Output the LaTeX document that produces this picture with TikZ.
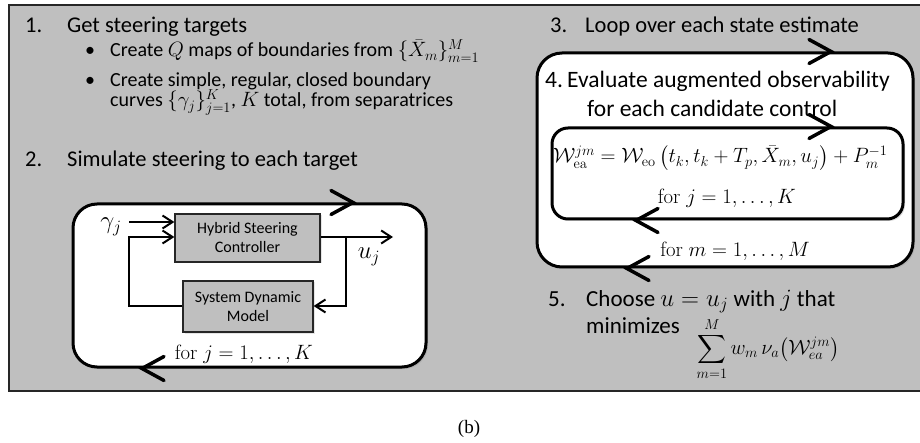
\documentclass[tikz,border=0pt]{standalone}
\usepackage[no-math]{fontspec}
\setmainfont{Carlito}
\newfontfamily\capfont{Liberation Serif}
\usepackage{amsmath,amssymb}
\usetikzlibrary{arrows.meta,shadows}

\tikzset{
  panel/.style={draw=black!85, fill=gray!50, line width=2pt},
  loopbox/.style={draw=black, fill=white, line width=3pt, inner sep=0pt,
    drop shadow={opacity=0.25, shadow xshift=2pt, shadow yshift=-2pt}},
  blk/.style={draw=black!85, fill=gray!50, line width=1.3pt, align=center,
    inner sep=0pt, font=\fontsize{16}{19}\selectfont,
    drop shadow={opacity=0.2, shadow xshift=1.5pt, shadow yshift=-1.5pt}},
  sig/.style={line width=2pt, -{Straight Barb[length=10pt,width=13pt,line width=2pt]}},
  loopline/.style={line width=3.5pt, line cap=round, line join=miter},
  head/.style={anchor=base west, inner sep=0pt, font=\fontsize{22.5}{26}\selectfont},
  headb/.style={anchor=base west, inner sep=0pt, font=\fontsize{23.5}{27}\selectfont},
  sub/.style={anchor=base west, inner sep=0pt, font=\fontsize{20}{24}\selectfont},
  mlbl/.style={inner sep=0pt, font=\fontsize{20}{24}\selectfont},
  biglbl/.style={inner sep=0pt, font=\fontsize{26}{30}\selectfont},
  chevright/.pic={\draw[loopline] (-22,-12) -- (0,0) -- (-22,12);},
  chevleft/.pic={\draw[loopline] (22,-12) -- (0,0) -- (22,12);}
}

\begin{document}
\begin{tikzpicture}[x=1pt, y=-1pt]
\useasboundingbox (0,0) rectangle (920,443);

% grey background panel
\draw[panel] (9,5) rectangle (926,391);

% ---- left column: steps 1 and 2
\node[head] (n1) at (25,33) {1.};
\node[head] (t1) at (67,33) {Get steering targets};
\node[sub] (d1) at (85,57) {\textbullet};
\node[sub] (c1) at (110,57) {Create $Q$ maps of boundaries from $\{\bar{X}_m\}_{m=1}^{M}$};
\node[sub] (d2) at (85,87) {\textbullet};
\node[sub] (c2) at (110,87) {Create simple, regular, closed boundary};
\node[sub] (c3) at (110,107) {curves $\{\gamma_j\}_{j=1}^{K}$, $K$ total, from separatrices};
\node[head] (n2) at (25,167) {2.};
\node[head] (t2) at (67,167) {Simulate steering to each target};

% loop over the targets
\node[loopbox, rounded corners=24pt, minimum width=353pt, minimum height=163pt]
  (loopK) at (249.5,285.5) {};
\pic at (loopK.north -| 353,0) {chevright};
\pic at (loopK.south -| 142,0) {chevleft};

% steering block diagram
\node[blk, minimum width=145pt, minimum height=48pt] (hsc) at (247.5,238) {Hybrid Steering\\Controller};
\node[blk, minimum width=130pt, minimum height=51pt] (sdm) at (248,306.5) {System Dynamic\\Model};
\node[biglbl] (gam) at (111,227) {$\gamma_j$};
\node[biglbl] (uj) at (369,257) {$u_j$};
\coordinate (gin) at (129,222);
\coordinate (fb) at (129,306);
\coordinate (fbtop) at (129,237);
\coordinate (br) at (346,237);
\coordinate (uout) at (393,237);
\draw[sig] (gin) -- (gin -| hsc.west);
\draw[sig] (sdm.west |- fb) -- (fb) -- (fbtop) -- (hsc.west |- fbtop);
\draw[sig] (hsc.east |- br) -- (uout);
\draw[sig] (br) -- (br |- fb) -- (sdm.east |- fb);
\node[mlbl, anchor=base] (forK1) at (244,359) {$\mathrm{for}\; j = 1, \ldots, K$};

% ---- right column: steps 3 to 5
\node[head] (n3) at (550,33) {3.};
\node[head] (t3) at (585,33) {Loop over each state estimate};

\node[loopbox, rounded corners=25pt, minimum width=376pt, minimum height=214pt]
  (loopM) at (725,160) {};
\pic at (loopM.north -| 831,0) {chevright};
\pic at (loopM.south -| 627,0) {chevleft};

\node[headb] (n4) at (545,88) {4.};
\node[headb] (t4) at (567,88) {Evaluate augmented observability};
\node[headb] (t4b) at (587,117) {for each candidate control};

\node[loopbox, rounded corners=16pt, minimum width=351pt, minimum height=91pt]
  (loopJ) at (727.5,173.5) {};
\pic at (loopJ.north -| 831,0) {chevright};
\pic at (loopJ.south -| 636,0) {chevleft};

\node[inner sep=0pt, font=\fontsize{20.7}{24}\selectfont, anchor=base west] (eq) at (553,163)
  {$\mathcal{W}^{jm}_{\mathrm{ea}} = \mathcal{W}_{\mathrm{eo}}\left(t_k, t_k + T_p, \bar{X}_m, u_j\right) + P_m^{-1}$};
\node[mlbl, anchor=base] (forK2) at (727,204) {$\mathrm{for}\; j = 1, \ldots, K$};
\node[mlbl, anchor=base] (forM) at (735,257) {$\mathrm{for}\; m = 1, \ldots, M$};

\node[head, font=\fontsize{23}{27}\selectfont] (n5) at (548,306) {5.};
\node[head, font=\fontsize{23}{27}\selectfont] (t5) at (586,306) {Choose $u = u_j$ with $j$ that};
\node[head, font=\fontsize{23}{27}\selectfont] (t5b) at (586,333) {minimizes};
\node[mlbl] (sum) at (768,349)
  {$\displaystyle\sum_{m=1}^{M} w_m\, \nu_a\big(\mathcal{W}^{jm}_{ea}\big)$};

% caption
\node[inner sep=0pt, font=\capfont\fontsize{19}{22}\selectfont] (cap) at (469,429) {(b)};
\end{tikzpicture}
\end{document}
